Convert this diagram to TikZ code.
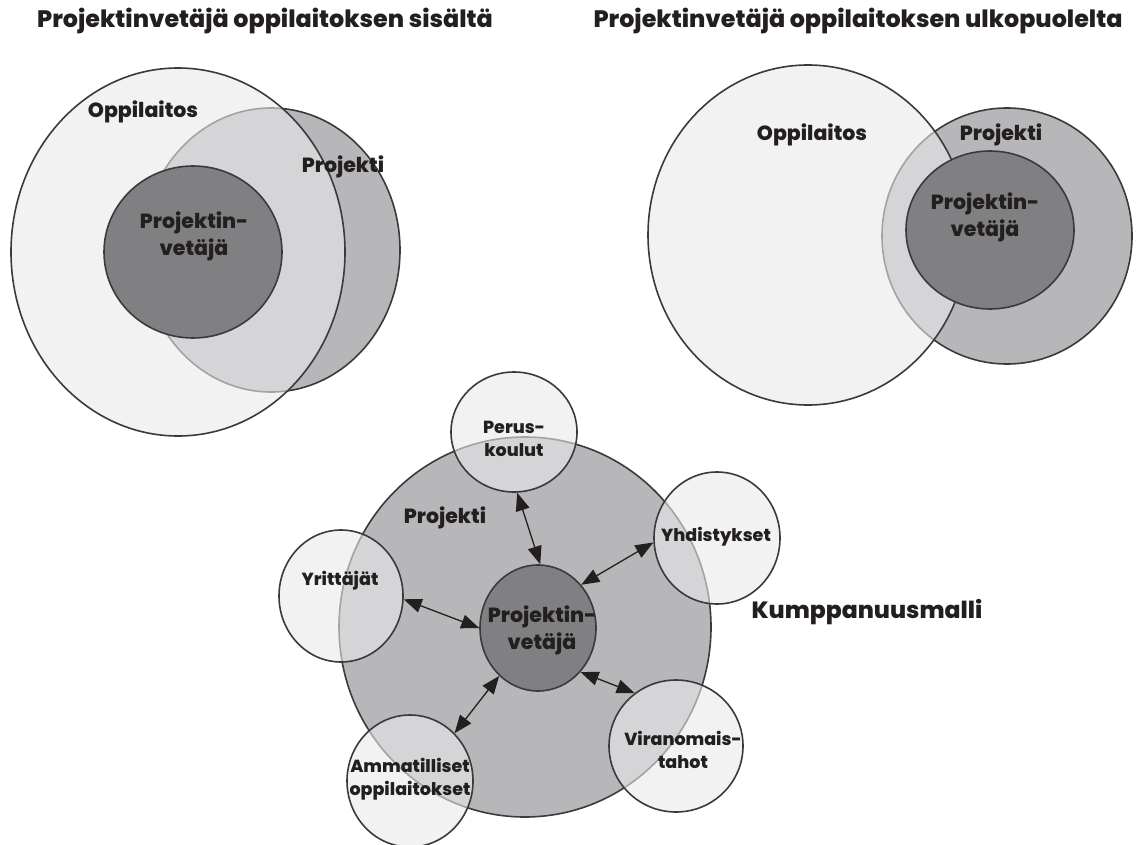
\documentclass[tikz,border=0pt]{standalone}
\usepackage{fontspec}
\setmainfont{Poppins}[BoldFont={Poppins ExtraBold}]
\usetikzlibrary{arrows.meta, shapes.geometric}
\definecolor{ink}{HTML}{231F20}
\definecolor{rim}{HTML}{3A3A3C}
\definecolor{paleg}{HTML}{E9E9EB}
\definecolor{midg}{HTML}{B7B7BA}
\definecolor{darkg}{HTML}{808083}

\begin{document}
\begin{tikzpicture}
[x=1pt, y=-1pt, every node/.style={text=ink, align=center}, blob/.style={ellipse, draw=rim, line width=1.6pt, inner sep=0pt}, pale blob/.style={blob, fill=paleg, fill opacity=0.6}, mid blob/.style={blob, fill=midg}, dark blob/.style={blob, fill=darkg}, link/.style={{Triangle[length=18pt,width=14pt]}-{Triangle[length=18pt,width=14pt]}, line width=1.3pt, draw=ink}, head text/.style={font=\bfseries\fontsize{23.8}{28}\selectfont}, big text/.style={font=\bfseries\fontsize{20.5}{27}\selectfont}, small text/.style={font=\bfseries\fontsize{17.5}{23}\selectfont}]
    \clip (0,0) rectangle (1137,845);
    % inside the school
    \node[head text] (titleL) at (265,21) {Projektinvetäjä oppilaitoksen sisältä};
    \node[mid blob, minimum width=258pt, minimum height=284pt] (projL) at (271,250) {};
    \node[pale blob, minimum width=334pt, minimum height=368pt] (oppL) at (178,252) {};
    \node[dark blob, minimum width=178pt, minimum height=172pt] (leadL) at (193,252) {};
    \node[big text] (oppLtext) at (143,112) {Oppilaitos};
    \node[big text] (projLtext) at (343,167) {Projekti};
    \node[big text] (leadLtext) at (194,236) {Projektin-\\vetäjä};
    % outside the school
    \node[head text] (titleR) at (858,21) {Projektinvetäjä oppilaitoksen ulkopuolelta};
    \node[mid blob, minimum width=250pt, minimum height=256pt] (projR) at (1007,236) {};
    \node[pale blob, minimum width=320pt, minimum height=340pt] (oppR) at (808,235) {};
    \node[dark blob, minimum width=168pt, minimum height=158pt] (leadR) at (990,230) {};
    \node[big text] (oppRtext) at (812,135) {Oppilaitos};
    \node[big text] (projRtext) at (1001,135) {Projekti};
    \node[big text] (leadRtext) at (985,217) {Projektin-\\vetäjä};
    % partnership
    \node[mid blob, minimum width=372pt, minimum height=380pt] (proj) at (525,627) {};
    \node[pale blob, minimum width=126pt, minimum height=120pt] (peru) at (514,432) {};
    \node[pale blob, minimum width=126pt, minimum height=132pt] (yhd) at (717,538) {};
    \node[pale blob, minimum width=124pt, minimum height=132pt] (yrit) at (341,596) {};
    \node[pale blob, minimum width=126pt, minimum height=132pt] (amm) at (410,781) {};
    \node[pale blob, minimum width=134pt, minimum height=132pt] (vir) at (676,746) {};
    \node[dark blob, minimum width=116pt, minimum height=126pt] (lead) at (538,628) {};
    \draw[link] (peru.273) -- (lead.88);
    \draw[link] (yhd.184) -- (lead.45);
    \draw[link] (yrit.-3) -- (lead.180);
    \draw[link] (amm.47) -- (lead.231);
    \draw[link] (vir.128) -- (lead.314);
    \node[big text] (projtext) at (445,518) {Projekti};
    \node[big text] (leadtext) at (542,630) {Projektin-\\vetäjä};
    \node[small text] (perutext) at (514,439) {Perus-\\koulut};
    \node[small text] (yhdtext) at (716,537) {Yhdistykset};
    \node[small text] (yrittext) at (340,581) {Yrittäjät};
    \node[small text] (ammtext) at (410,779) {Ammatilliset\\oppilaitokset};
    \node[small text] (virtext) at (683,750) {Viranomais-\\tahot};
    \node[font=\bfseries\fontsize{23.5}{28}\selectfont] (model) at (867,612) {Kumppanuusmalli};
\end{tikzpicture}
\end{document}
